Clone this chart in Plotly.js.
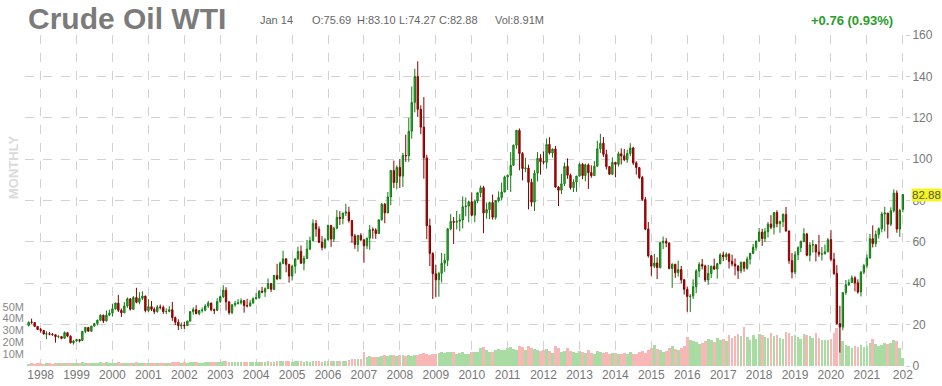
<!DOCTYPE html>
<html>
<head>
<meta charset="utf-8">
<script src="https://cdn.plot.ly/plotly-3.0.1.min.js"></script>
<style>
  html, body { margin: 0; padding: 0; background: #ffffff; }
  #chart { width: 942px; height: 386px; }
</style>
</head>
<body>
<div id="chart"></div>
<script>
// Monthly WTI candles, Sep 1997 .. Jan 2022 (one value per month)
const startYear = 1997;
const startMonth = 9; // September

const openP = [
  19.65,21.20,21.00,19.10,
  17.70,17.20,15.40,15.60,15.40,15.10,14.20,14.20,13.40,16.10,14.40,11.20,
  12.10,12.70,12.30,16.70,18.60,16.80,19.30,20.50,22.10,24.50,21.80,24.60,
  25.60,27.60,30.40,26.90,25.70,29.00,32.50,27.40,33.10,30.80,32.70,33.80,
  26.80,28.70,27.40,26.30,28.50,28.40,26.30,26.40,27.20,23.40,21.20,19.40,
  19.80,19.50,21.70,26.30,27.30,25.30,26.90,27.00,29.00,30.40,27.20,26.90,
  31.20,33.50,36.60,31.00,25.80,29.60,30.20,30.50,31.60,29.20,29.10,30.40,
  32.50,33.00,36.20,35.80,37.40,39.90,37.00,43.80,42.10,49.60,51.80,49.10,
  43.50,48.20,51.80,55.40,49.70,52.00,56.50,60.60,68.90,66.20,59.80,57.30,
  61.00,67.90,61.40,66.60,71.90,71.30,73.90,74.40,70.30,62.90,58.70,63.10,
  61.00,58.10,61.80,65.90,65.70,64.00,70.70,78.20,74.00,81.70,94.50,88.70,
  96.00,91.80,101.80,101.60,113.50,127.40,140.00,124.10,115.50,100.60,67.80,54.40,
  44.60,41.70,44.80,49.70,51.10,66.30,69.90,69.50,70.00,70.60,77.00,77.30,
  79.40,72.90,79.70,83.80,86.20,74.00,75.60,79.00,71.90,80.00,81.40,84.10,
  91.40,92.20,97.00,106.70,113.90,102.70,95.40,95.70,88.80,79.20,93.20,100.40,
  98.80,98.50,107.10,103.00,104.90,86.50,85.00,88.10,96.50,92.20,86.20,88.90,
  91.80,97.50,92.10,97.20,93.50,92.00,96.60,105.00,107.70,102.30,96.40,92.70,
  98.40,97.50,102.60,101.60,99.70,102.70,105.40,98.20,95.90,91.20,80.50,66.20,
  53.30,48.20,49.80,47.60,59.60,60.30,59.50,47.10,49.20,45.10,46.60,41.70,
  37.00,33.60,33.80,38.30,45.90,49.10,48.30,41.60,44.70,48.20,46.90,49.40,
  53.70,52.80,54.00,50.60,49.30,48.30,46.00,50.20,47.20,51.70,54.40,57.40,
  60.40,64.70,61.60,64.90,68.60,67.00,74.20,68.80,69.80,73.30,65.30,50.90,
  45.40,53.80,57.20,60.10,63.90,53.50,58.50,58.60,55.10,54.10,54.20,55.20,
  61.10,51.60,44.80,20.50,18.80,35.50,39.30,40.30,42.60,40.20,35.80,45.30,
  48.50,52.20,61.50,59.20,63.60,66.30,73.50,73.90,68.50,75.00,83.60,66.20,
  75.69
];

const highP = [
  21.50,22.90,21.20,19.30,
  18.40,17.40,16.80,16.40,15.90,15.30,14.90,14.30,16.70,16.40,14.80,12.60,
  13.10,13.00,16.90,18.80,18.90,19.40,20.80,22.40,25.00,24.90,26.80,27.20,
  30.10,30.60,34.40,27.80,30.90,33.10,32.60,33.80,37.80,35.70,36.10,34.00,
  32.30,31.40,28.40,29.50,29.70,29.20,27.90,28.90,31.00,23.90,22.60,21.00,
  21.40,21.80,26.40,28.40,29.40,27.00,28.30,29.90,31.50,30.70,27.80,32.80,
  34.00,39.00,38.10,31.30,29.90,31.50,32.30,32.70,31.80,32.50,32.00,33.20,
  35.30,36.70,38.30,38.00,42.30,40.00,44.00,49.40,50.50,55.70,52.00,49.40,
  49.00,52.10,57.70,58.30,53.30,60.90,62.50,70.90,70.60,67.50,62.80,61.80,
  68.40,68.20,67.30,75.40,74.90,74.10,78.40,77.00,70.60,63.90,62.90,64.20,
  61.20,62.00,68.10,67.00,66.60,70.70,78.80,78.80,84.10,94.70,99.30,97.00,
  100.10,103.00,111.80,119.90,135.10,143.70,147.30,126.00,130.00,102.10,71.20,55.00,
  49.00,45.50,54.70,54.20,66.60,73.40,72.00,75.00,73.40,82.00,81.50,80.00,
  83.95,80.50,83.80,87.20,87.10,79.00,79.40,82.90,80.10,84.40,88.60,92.00,
  92.60,103.40,107.00,114.00,114.80,103.40,100.60,97.30,90.50,94.70,103.40,102.40,
  103.70,110.00,110.60,105.20,106.40,86.90,92.90,98.30,100.40,93.00,90.20,91.90,
  98.20,98.20,97.80,97.90,97.00,99.00,108.90,112.20,110.70,104.50,96.70,100.80,
  98.60,103.60,105.20,104.90,104.50,107.70,106.00,99.00,96.20,91.90,81.70,69.60,
  53.70,54.20,52.50,59.90,62.60,61.80,59.70,49.60,49.30,50.90,48.40,42.00,
  38.40,34.80,41.90,46.80,50.20,51.70,49.00,48.80,48.40,51.90,49.90,54.50,
  55.20,54.90,54.50,53.80,52.00,48.80,50.40,50.40,52.90,54.80,59.00,60.50,
  66.70,66.30,66.60,69.60,72.90,74.50,75.30,70.30,73.80,76.90,65.40,54.60,
  55.40,57.80,60.70,66.60,63.90,59.90,60.90,58.80,63.40,57.50,58.70,61.90,
  65.70,54.70,48.70,29.10,35.60,41.60,41.90,43.80,43.40,41.90,45.90,49.40,
  53.90,63.80,67.98,65.50,67.00,74.50,76.98,74.00,76.70,85.40,84.90,76.00,
  83.10
];

const lowP = [
  19.10,20.35,18.95,17.45,
  16.10,15.30,13.00,14.80,14.60,11.30,13.40,12.90,13.20,13.90,10.90,10.35,
  11.60,11.40,12.10,15.80,16.70,16.40,19.00,19.60,21.70,20.80,21.50,24.20,
  23.90,27.20,26.10,23.70,25.60,28.10,26.80,27.20,30.30,29.80,31.90,25.90,
  26.10,26.60,25.10,25.80,27.30,25.20,25.00,25.90,21.80,19.80,17.40,17.80,
  17.90,19.40,21.50,24.80,25.00,24.50,25.80,26.40,28.00,26.50,25.10,26.60,
  30.50,32.80,26.80,24.80,25.00,28.60,29.70,29.70,25.80,28.30,28.60,30.20,
  32.20,32.50,35.10,33.40,37.30,35.80,37.00,41.50,42.00,49.20,45.30,40.30,
  41.30,44.70,51.30,49.30,46.20,51.80,56.00,60.20,62.50,59.50,55.90,56.50,
  60.80,57.60,59.90,66.10,68.20,68.50,72.50,69.30,59.50,56.60,55.30,60.30,
  49.90,56.50,56.20,61.60,61.50,63.90,70.30,69.00,73.90,77.70,86.00,85.40,
  86.10,86.50,98.70,98.70,109.90,122.60,120.40,112.10,90.50,61.30,48.30,32.40,
  33.20,33.50,40.40,45.50,48.30,65.60,59.00,66.00,65.10,66.50,72.40,69.50,
  72.40,69.50,78.70,81.60,64.20,71.20,71.00,70.80,70.80,79.10,80.10,84.00,
  85.10,84.10,96.80,105.00,94.60,89.70,93.70,75.70,77.10,74.90,89.20,92.50,
  97.50,95.40,102.20,100.70,86.10,77.30,83.10,87.00,90.50,85.30,84.10,84.20,
  91.60,90.30,89.30,85.60,91.00,92.00,96.30,103.00,101.10,95.00,92.50,92.30,
  91.20,96.40,97.40,99.00,98.20,101.40,97.20,92.50,90.40,79.80,65.70,52.40,
  43.60,47.30,42.00,47.10,56.50,57.40,46.70,37.80,42.60,43.20,40.00,34.50,
  26.20,26.05,32.40,35.20,43.00,46.70,40.60,39.20,42.50,46.40,42.20,49.20,
  50.70,51.20,47.10,48.20,43.80,42.10,44.80,45.60,46.50,49.10,54.20,55.80,
  59.90,58.10,59.90,62.10,66.10,63.60,67.00,64.40,67.10,64.90,49.40,42.40,
  44.40,51.20,55.10,60.00,53.00,50.60,54.80,50.50,52.80,50.99,54.00,55.00,
  50.60,44.00,20.00,6.50,17.30,34.40,38.70,40.10,36.10,34.90,33.60,44.30,
  47.20,51.90,57.30,57.60,61.60,64.60,65.00,61.70,67.60,74.20,64.40,62.40,
  74.27
];

const closeP = [
  21.18,21.08,19.15,17.64,
  17.21,15.44,15.61,15.39,15.20,14.18,14.21,13.36,16.14,14.42,11.22,12.05,
  12.75,12.27,16.76,18.66,16.84,19.29,20.53,22.11,24.51,21.75,24.59,25.60,
  27.64,30.43,26.90,25.74,29.01,32.50,27.43,33.12,30.84,32.70,33.82,26.80,
  28.66,27.39,26.29,28.46,28.37,26.25,26.35,27.20,23.43,21.18,19.44,19.84,
  19.48,21.74,26.31,27.29,25.31,26.86,27.02,28.98,30.45,27.22,26.89,31.20,
  33.51,36.60,31.04,25.80,29.56,30.19,30.54,31.57,29.20,29.11,30.41,32.52,
  33.05,36.16,35.76,37.38,39.88,37.05,43.80,42.12,49.64,51.76,49.13,43.45,
  48.20,51.75,55.40,49.72,51.97,56.50,60.57,68.94,66.24,59.76,57.32,61.04,
  67.92,61.41,66.63,71.88,71.29,73.93,74.40,70.26,62.91,58.73,63.13,61.05,
  58.14,61.79,65.87,65.71,64.01,70.68,78.21,74.04,81.66,94.53,88.71,95.98,
  91.75,101.84,101.58,113.46,127.35,140.00,124.08,115.46,100.64,67.81,54.43,44.60,
  41.68,44.76,49.66,51.12,66.31,69.89,69.45,69.96,70.61,77.00,77.28,79.36,
  72.89,79.66,83.76,86.15,73.97,75.63,78.95,71.92,79.97,81.43,84.11,91.38,
  92.19,96.97,106.72,113.93,102.70,95.42,95.70,88.81,79.20,93.19,100.36,98.83,
  98.48,107.07,103.02,104.87,86.53,84.96,88.06,96.47,92.19,86.24,88.91,91.82,
  97.49,92.05,97.23,93.46,91.97,96.56,105.03,107.65,102.33,96.38,92.72,98.42,
  97.49,102.59,101.58,99.74,102.71,105.37,98.17,95.96,91.16,80.54,66.15,53.27,
  48.24,49.76,47.60,59.63,60.30,59.47,47.12,49.20,45.09,46.59,41.65,37.04,
  33.62,33.75,38.34,45.92,49.10,48.33,41.60,44.70,48.24,46.86,49.44,53.72,
  52.81,54.01,50.60,49.33,48.32,46.04,50.17,47.23,51.67,54.38,57.40,60.42,
  64.73,61.64,64.94,68.57,67.04,74.15,68.76,69.80,73.25,65.31,50.93,45.41,
  53.79,57.22,60.14,63.91,53.50,58.47,58.58,55.10,54.07,54.18,55.17,61.06,
  51.56,44.76,20.48,18.84,35.49,39.27,40.27,42.61,40.22,35.79,45.34,48.52,
  52.20,61.50,59.16,63.58,66.32,73.47,73.95,68.50,75.03,83.57,66.18,75.21,
  82.88
];

// monthly volume, millions
const volumeM = [
  2.0,2.4,2.1,2.2,
  2.3,2.0,2.8,2.4,2.1,2.5,2.2,2.4,2.9,2.6,2.5,2.7,
  2.5,2.3,3.0,2.8,2.6,2.7,2.4,2.8,3.1,2.9,3.0,2.6,
  2.7,2.9,3.2,2.6,2.8,2.7,2.5,2.9,3.1,2.8,2.7,2.6,
  2.8,2.6,2.7,2.8,2.5,2.6,2.7,2.8,3.0,3.1,3.2,2.9,
  3.0,2.9,3.1,3.2,3.0,2.9,2.8,3.1,3.2,3.3,3.0,3.4,
  3.5,3.8,3.9,3.3,3.1,3.2,3.0,3.3,3.5,3.4,3.1,3.3,
  3.4,3.3,3.7,3.5,3.9,3.6,3.7,4.2,3.9,4.3,4.0,3.8,
  3.6,3.9,4.2,4.0,3.7,4.1,3.6,4.5,4.3,3.9,3.6,3.8,
  4.2,4.0,4.3,4.5,4.4,4.1,4.3,4.8,5.5,6.0,5.6,6.3,
  11.5,8.0,8.6,7.2,7.8,7.5,8.5,9.0,8.3,9.5,9.0,8.2,
  9.6,9.0,8.8,9.2,8.6,8.9,9.5,10.5,11.0,9.8,8.9,10.2,
  10.5,11.2,11.6,10.8,11.5,12.0,11.6,10.4,11.2,12.2,10.5,10.0,
  11.6,12.0,11.5,14.8,16.0,13.2,11.5,12.0,13.5,14.2,13.8,13.5,
  15.2,16.0,14.5,13.2,17.0,15.8,13.5,16.5,15.5,14.0,13.2,12.8,
  13.5,14.2,12.8,11.2,16.5,15.2,12.0,13.0,15.0,12.8,11.5,11.0,
  12.5,11.8,11.0,13.2,11.0,10.5,12.5,11.8,10.8,11.5,10.2,10.8,
  11.0,10.5,10.2,11.2,10.0,11.5,9.8,10.5,11.8,12.5,11.0,13.5,
  15.0,17.5,14.5,13.8,12.0,12.5,14.8,16.5,14.0,13.5,15.5,16.8,
  24.5,22.0,21.0,20.0,18.5,19.5,21.0,23.0,22.0,20.5,24.0,21.5,
  22.5,21.0,26.0,23.5,25.0,27.0,25.5,33.0,24.5,22.0,26.5,23.0,
  27.0,26.0,24.5,23.5,28.0,25.0,26.5,24.0,23.0,28.5,27.5,25.5,
  26.0,24.5,23.0,27.0,26.5,25.0,24.0,27.5,23.5,22.0,21.5,22.0,
  23.0,28.0,32.0,33.0,21.0,18.0,16.5,15.5,17.0,16.0,18.0,16.0,
  17.0,19.5,23.0,18.5,17.0,18.0,19.0,18.5,19.5,22.0,21.0,15.0,
  7.0
];

const yearTicks = [1998,1999,2000,2001,2002,2003,2004,2005,2006,2007,2008,2009,2010,
                   2011,2012,2013,2014,2015,2016,2017,2018,2019,2020,2021,2022];
// the last year label is clipped at the plot's right edge in the reference
const yearLabels = ['1998','1999','2000','2001','2002','2003','2004','2005','2006','2007','2008','2009','2010',
                    '2011','2012','2013','2014','2015','2016','2017','2018','2019','2020','2021','202'];
const priceTicks = [0,20,40,60,80,100,120,140,160];
const volTicks = [10,20,30,40,50];

// month dates for the candles
const dates = [];
for (let i = 0; i < closeP.length; i++) {
  const m = (startMonth - 1) + i;
  const y = startYear + Math.floor(m / 12);
  const mo = (m % 12) + 1;
  dates.push(y + '-' + String(mo).padStart(2, '0') + '-01');
}
const volColors = closeP.map((c, i) => c >= openP[i] ? '#a9dca3' : '#f7b7b7');

const volTrace = {
  type: 'bar', x: dates, y: volumeM, xaxis: 'x', yaxis: 'y',
  marker: { color: volColors, line: { width: 0 } }, hoverinfo: 'skip'
};
const candleTrace = {
  type: 'candlestick', x: dates, open: openP, high: highP, low: lowP, close: closeP,
  xaxis: 'x', yaxis: 'y2', whiskerwidth: 0,
  increasing: { line: { color: '#137a13', width: 1 }, fillcolor: '#2fc42f' },
  decreasing: { line: { color: '#8a0000', width: 1 }, fillcolor: '#c40000' }
};

// pixel helpers for the header texts (plot area: x 25..905, y 35..366)
const PX = px => (px - 25) / 880;
const PY = py => (366 - py) / 331;
const small = { size: 11, color: '#666' };

const layout = {
  width: 942, height: 386,
  margin: { l: 25, r: 37, t: 35, b: 20 },
  paper_bgcolor: '#ffffff', plot_bgcolor: '#ffffff',
  showlegend: false, bargap: 0,
  font: { family: 'Liberation Sans, Arial, sans-serif', color: '#777' },
  xaxis: {
    type: 'date', range: ['1997-07-26', '2022-01-23'],
    tickvals: yearTicks.map(y => y + '-01-01'), ticktext: yearLabels,
    showgrid: true, gridcolor: '#d2d2d2', griddash: 'dash', gridwidth: 1,
    zeroline: false, showline: false, ticks: '',
    tickfont: { size: 12, color: '#777' },
    rangeslider: { visible: false }, fixedrange: true
  },
  yaxis: {
    side: 'left', range: [0, 279],
    tickvals: volTicks, ticktext: volTicks.map(v => v + 'M'),
    showgrid: false, zeroline: false, showline: false, ticks: '',
    tickfont: { size: 11, color: '#888' }, fixedrange: true
  },
  yaxis2: {
    overlaying: 'y', side: 'right', range: [0, 160],
    tickvals: priceTicks, ticktext: priceTicks.map(String),
    showgrid: true, gridcolor: '#d2d2d2', griddash: 'dash', gridwidth: 1,
    zeroline: false, showline: false,
    ticks: 'outside', ticklen: 4, tickcolor: '#d2d2d2',
    tickfont: { size: 12, color: '#777' }, fixedrange: true
  },
  annotations: [
    { xref: 'paper', yref: 'paper', x: PX(26), y: PY(18), xanchor: 'left', yanchor: 'middle',
      showarrow: false, text: '<b>Crude Oil WTI</b>',
      font: { size: 30, color: '#7b7b7b', family: 'Liberation Sans, Arial, sans-serif' } },
    { xref: 'paper', yref: 'paper', x: PX(258), y: PY(20), xanchor: 'left', yanchor: 'middle',
      showarrow: false, text: 'Jan 14', font: small },
    { xref: 'paper', yref: 'paper', x: PX(310), y: PY(20), xanchor: 'left', yanchor: 'middle',
      showarrow: false, text: 'O:75.69', font: small },
    { xref: 'paper', yref: 'paper', x: PX(355), y: PY(20), xanchor: 'left', yanchor: 'middle',
      showarrow: false, text: 'H:83.10', font: small },
    { xref: 'paper', yref: 'paper', x: PX(397), y: PY(20), xanchor: 'left', yanchor: 'middle',
      showarrow: false, text: 'L:74.27', font: small },
    { xref: 'paper', yref: 'paper', x: PX(437), y: PY(20), xanchor: 'left', yanchor: 'middle',
      showarrow: false, text: 'C:82.88', font: small },
    { xref: 'paper', yref: 'paper', x: PX(493), y: PY(20), xanchor: 'left', yanchor: 'middle',
      showarrow: false, text: 'Vol:8.91M', font: small },
    { xref: 'paper', yref: 'paper', x: PX(895), y: PY(21), xanchor: 'right', yanchor: 'middle',
      showarrow: false, text: '<b>+0.76 (0.93%)</b>', font: { size: 13, color: '#2a9d2a' } },
    { xref: 'paper', yref: 'paper', x: PX(13), y: PY(168), xanchor: 'center', yanchor: 'middle',
      showarrow: false, textangle: -90, text: '<b>MONTHLY</b>', font: { size: 13, color: '#dadada' } },
    { xref: 'paper', yref: 'y2', x: PX(911), y: closeP[closeP.length - 1], xanchor: 'left', yanchor: 'middle',
      showarrow: false, text: String(closeP[closeP.length - 1].toFixed(2)),
      bgcolor: '#f6f61e', borderpad: 0, font: { size: 11.5, color: '#555' } }
  ]
};

Plotly.newPlot('chart', [volTrace, candleTrace], layout, { displayModeBar: false, staticPlot: true });
</script>
</body>
</html>
